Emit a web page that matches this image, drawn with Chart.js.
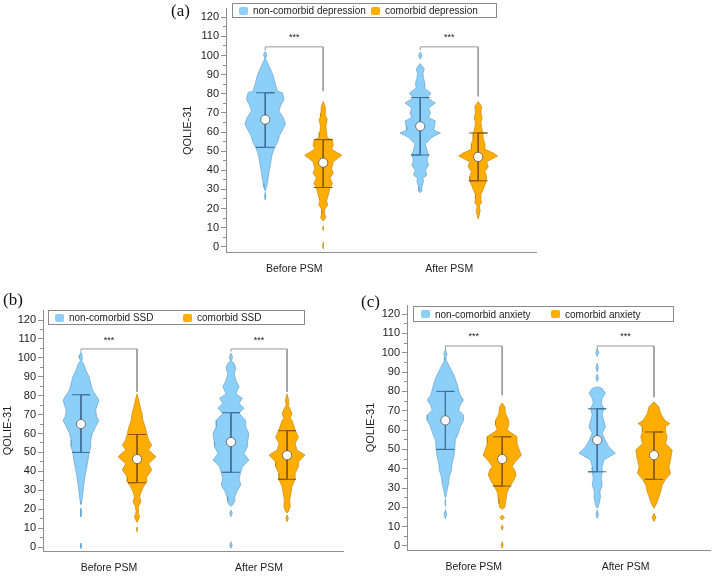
<!DOCTYPE html>
<html lang="en">
<head>
<meta charset="UTF-8">
<title>QOLIE-31 violin plots</title>
<script src="https://cdn.jsdelivr.net/npm/chart.js"></script>
<style>
  body { margin: 0; background: #fff; font-family: "Liberation Sans", Arial, sans-serif; }
  #wrap { position: relative; width: 716px; height: 577px; overflow: hidden; }
  #wrap canvas { position: absolute; }
  .tag { position: absolute; font-family: "Liberation Serif", "Times New Roman", serif; font-size: 17px; color: #111; line-height: 20px; }
  .legend { position: absolute; border: 1px solid #8a8a8a; box-sizing: border-box; font-size: 10px; color: #222; background: #fff; }
  .legend .sw { position: absolute; width: 9px; height: 8px; border-radius: 2px; }
  .legend .tx { position: absolute; line-height: 13px; white-space: nowrap; }
</style>
</head>
<body>
<div id="wrap">
  <canvas id="chartA" width="400" height="285" style="left:150px;top:0px"></canvas>
  <canvas id="chartB" width="360" height="297" style="left:0px;top:280px"></canvas>
  <canvas id="chartC" width="356" height="297" style="left:360px;top:280px"></canvas>

  <div class="tag" style="left:171px;top:1px">(a)</div>
  <div class="tag" style="left:3px;top:290px">(b)</div>
  <div class="tag" style="left:361px;top:292px">(c)</div>

  <div class="legend" style="left:232px;top:3px;width:265px;height:15px">
    <span class="sw" style="left:6px;top:3px;background:#8ccff9"></span><span class="tx" style="left:20px;top:0px">non-comorbid depression</span>
    <span class="sw" style="left:138px;top:3px;background:#ffad00"></span><span class="tx" style="left:152px;top:0px">comorbid depression</span>
  </div>
  <div class="legend" style="left:48px;top:310px;width:257px;height:15px">
    <span class="sw" style="left:6px;top:3px;background:#8ccff9"></span><span class="tx" style="left:20px;top:0px">non-comorbid SSD</span>
    <span class="sw" style="left:134px;top:3px;background:#ffad00"></span><span class="tx" style="left:148px;top:0px">comorbid SSD</span>
  </div>
  <div class="legend" style="left:413px;top:306px;width:261px;height:16px">
    <span class="sw" style="left:7px;top:3px;background:#8ccff9"></span><span class="tx" style="left:21px;top:1px">non-comorbid anxiety</span>
    <span class="sw" style="left:137px;top:3px;background:#ffad00"></span><span class="tx" style="left:151px;top:1px">comorbid anxiety</span>
  </div>
</div>
<script>
// categories and axis ticks
const groups = ['Before PSM', 'After PSM'];
const yTicks = [0, 10, 20, 30, 40, 50, 60, 70, 80, 90, 100, 110, 120];
const yMinorTicks = [5, 15, 25, 35, 45, 55, 65, 75, 85, 95, 105, 115];

// violin profiles: [QOLIE-31 score, density (half width)], bottom to top, 0 = gap
const depBeforeNon = [[24.5,0],[26.5,0.8],[28.5,0],[29,0],[31,1.2],[33,2],[37.5,3.3],[42.7,5],[48,6.7],[50.5,8.3],[52.5,10],[55,12.5],[58,14],[61,17],[64,20],[67.5,18],[71,13.5],[73.5,15],[77,18.5],[80.5,17],[81.5,12],[84,10.5],[87,9],[90,7.5],[93,5],[96,2.5],[98.3,0.3],[100.5,1.7],[102,0]];
const depBeforeCom = [[-1,0],[0.7,0.7],[2.5,0],[8.5,0],[9.8,0.7],[11,0],[13.5,0],[15.4,2.7],[17,1.5],[19.7,1.5],[22,4.5],[24,3.3],[27,5],[30.8,6.7],[33,9.3],[36,6.7],[38.5,10],[41,8.3],[44.4,10],[47.9,18.3],[51,8.3],[53,10],[56,9],[57,4],[60,3.3],[63,2.7],[66.7,4],[68,2.7],[70,2.2],[73,2],[76,0]];
const depAfterNon = [[28.2,0],[29,1.3],[31.6,1.7],[34.2,3.3],[35.9,2.7],[37.6,6.7],[40,5],[42.7,8.3],[45.3,6.7],[48,8.3],[50.4,6.7],[53.8,5],[57.3,11.7],[59.5,20],[61,13.3],[63,14],[65.8,15],[67.5,8.3],[70,10],[72.6,8.3],[75.2,15],[77.8,6.7],[80.3,10.7],[83,4],[85.5,4.7],[88,3.3],[90.6,2.7],[93,4],[95.8,0],[98,0],[99.8,1.7],[101.7,0]];
const depAfterCom = [[14.5,0],[16.5,1],[18.8,2],[21.4,1],[23,3.3],[24.8,2.7],[27.4,2.7],[30,5],[32.5,6.7],[34.5,8.3],[36.8,8.3],[39.3,6.7],[41.9,10],[44.4,8.3],[47.5,19.3],[49,15],[51,6.7],[53.8,6.7],[56.4,5],[59.8,4.5],[62.4,3.3],[65,2.7],[67.5,4],[70,2.7],[73.5,3.3],[76,0]];

const ssdBeforeNon = [[-0.7,0],[0.7,0.7],[2,0],[16,0],[18,0.7],[20.5,0],[22.5,0],[24,0.7],[27.5,1.7],[32,2.7],[37,4],[42.5,6],[46,7.3],[50,8.3],[53,10],[56.6,10],[60,11.7],[63.6,15],[67,18.3],[68.9,16],[72.4,15],[75,16.7],[77.7,18.3],[80.4,15],[83,11.7],[86.5,10],[90,8.3],[93.5,5],[97,2.7],[98.5,0.5],[100,1.7],[101.5,1.2],[103,0]];
const ssdBeforeCom = [[8,0],[9.5,0.7],[10.7,0],[13,0],[14.5,1.5],[16,2.7],[17.5,1.5],[18.7,1],[21.3,1.7],[24,4],[26.6,2.7],[29,4],[32,6.7],[34.5,10],[37,10],[40.7,15],[44,11.7],[47.7,19.3],[51.4,11.7],[54,15],[56.6,11.7],[60,10],[63.6,8.3],[67,6],[70.7,5],[74,3.3],[77.7,1.7],[81,0]];
const ssdAfterNon = [[-0.7,0],[1,1.3],[2.8,0],[16,0],[17.8,1.3],[19.6,0],[21.5,0],[22.2,1.7],[24,3.3],[26.6,4],[29.3,6],[32.8,10],[36.3,8.3],[39.5,10],[42.5,11.7],[46,18.3],[49.5,13.3],[53,16.7],[55.5,17],[60,18.3],[63.6,15],[67,15],[70.7,8.3],[73.3,13.3],[76,8.3],[78.6,11.7],[81,5],[84.8,8.3],[88,5],[91.8,3.3],[94.5,5],[97,3.3],[98.5,0.5],[100.5,1.7],[102.5,0]];
const ssdAfterCom = [[13.4,0],[15.2,1.3],[17,0],[18,0],[18.7,1.3],[21.3,3.3],[24.8,2.7],[28.4,4],[32,5],[35.8,8.3],[39,8.3],[42.5,11.7],[45,11.7],[48.6,18.3],[51.3,10],[54.8,8.3],[58,11.7],[61.8,8.3],[64.5,6.7],[67,5],[68,3.3],[70.7,5],[73.3,2.7],[75,1],[77.7,1.7],[81,0]];

const anxBeforeNon = [[14,0],[16.4,1.3],[18.8,0],[20.5,0],[22.5,0.5],[24.5,0],[25,0],[26,0.7],[29,1.7],[32.4,3.3],[35.9,4],[39,6],[42.7,6.7],[46,8.3],[49.6,9.3],[54.8,10],[58,12.7],[61.7,15],[65,18.3],[67.8,18.3],[70.3,13.3],[73,15],[75.5,18.3],[78,15],[80.7,13.3],[84,11.7],[87.6,9.3],[91,6],[93.6,3.3],[96,1],[97.5,0.5],[99.5,1.7],[101.5,0]];
const anxBeforeCom = [[-1.2,0],[0.5,1],[2.2,0],[8.3,0],[9.6,1],[10.9,0],[13.4,0],[14.7,2.3],[16,0],[19,0],[20,2.7],[22,3.3],[24.6,4],[28,5],[31.2,8.3],[34,11.7],[36.7,14],[39.3,12.7],[41,10],[43.6,13.3],[47,19.3],[50.5,16.7],[53,15],[56.6,15],[60,5],[62.6,6.7],[65,6.7],[68.6,3.3],[72,2.7],[74,0]];
const anxAfterNon = [[14.3,0],[16.5,1.3],[18.6,0],[19.5,0],[20.3,1],[22,2],[25.5,3.3],[28,2.7],[31.6,5],[35,4],[38.4,5],[41,5],[44.5,6.7],[48,18.3],[51.4,11.7],[54.8,8],[58.3,5],[61.7,8.3],[65,6.7],[67.8,5],[71.2,6.7],[73.8,4],[76.4,5],[79,8.3],[81.5,5],[82.4,0],[85,0],[87,1.3],[89,0],[90,0],[92.2,1.3],[94.5,0],[98,0],[100,1.7],[102,0]];
const anxAfterCom = [[12.6,0],[14.8,2],[17,0],[19.5,0],[22,2.7],[25.5,5],[28,6.7],[31.6,8.3],[34.5,11.7],[37.6,16.7],[41,15],[44.5,16.7],[49.7,18.3],[53,11.7],[56.6,13.3],[59,11.7],[61.7,11.7],[63.4,16],[65,11],[68.6,6.7],[72,5],[74.6,0]];

// [Q1, median, Q3] for before/non, before/comorbid, after/non, after/comorbid
const depStats = [[52, 66.5, 80.5], [31, 44, 56], [48, 63, 78], [34.5, 47, 59.5]];
const ssdStats = [[50, 65, 80.5], [34, 46.5, 59.5], [39.5, 55.5, 71], [35.8, 48.5, 61.5]];
const anxStats = [[50, 65, 80], [31, 45, 56.5], [38.4, 54.8, 71], [34.5, 47, 59]];

// significance brackets per group: [bar level, left end, right end]
const depBrackets = [[104.5, 102.5, 81.4], [104.5, 102.6, 78.6]];
const ssdBrackets = [[104.7, 103.3, 82.1], [104.7, 103.3, 82]];
const anxBrackets = [[103.5, 101.4, 78], [103.5, 101.4, 77]];
const starLevel = [109.6, 109.4, 108.3];

const BLUE = { fill: '#8ccff9', edge: '#5d98c6', inner: '#3f6f93' };
const ORANGE = { fill: '#ffad00', edge: '#bd7d00', inner: '#865800' };
const OFFSET = 0.187;
const DENS = 1 / 153;
const CAP = 0.06;

function splitBlobs(profile) {
    const out = [];
    let cur = [];
    profile.forEach(([v, w]) => {
        cur.push([v, w]);
        if (w === 0 && cur.length > 1) {
            if (cur.some(p => p[1] > 0)) out.push(cur);
            cur = [[v, w]];
        }
    });
    if (cur.some(p => p[1] > 0)) out.push(cur);
    return out;
}

function violinDatasets(profile, cx, col) {
    return splitBlobs(profile).map(blob => {
        const right = blob.map(([v, w]) => ({ x: cx + w * DENS, y: v }));
        const left = blob.slice().reverse().map(([v, w]) => ({ x: cx - w * DENS, y: v }));
        return {
            data: right.concat(left),
            borderColor: col.edge,
            borderWidth: 0.6,
            backgroundColor: col.fill,
            fill: 'shape',
            pointRadius: 0,
            tension: 0,
            order: 5
        };
    });
}

function boxDatasets(stat, cx, col) {
    const [q1, med, q3] = stat;
    return [{
        data: [
            { x: cx - CAP, y: q3 }, { x: cx + CAP, y: q3 }, { x: cx, y: q3 },
            { x: cx, y: q1 }, { x: cx - CAP, y: q1 }, { x: cx + CAP, y: q1 }
        ],
        borderColor: col.inner,
        borderWidth: 1,
        pointRadius: 0,
        fill: false,
        order: 3
    }, {
        data: [{ x: cx, y: med }],
        showLine: false,
        pointRadius: 4.6,
        pointBackgroundColor: '#ffffff',
        pointBorderColor: '#555555',
        pointBorderWidth: 0.8,
        order: 1
    }];
}

function bracketDataset(br, gx) {
    const [bar, leftEnd, rightEnd] = br;
    return {
        data: [
            { x: gx - OFFSET, y: leftEnd }, { x: gx - OFFSET, y: bar },
            { x: gx + OFFSET, y: bar }, { x: gx + OFFSET, y: rightEnd }
        ],
        borderColor: '#9a9a9a',
        borderWidth: 1,
        pointRadius: 0,
        fill: false,
        order: 2
    };
}

const starsPlugin = {
    id: 'stars',
    afterDatasetsDraw(chart) {
        const { ctx, scales } = chart;
        const lvl = chart.options.plugins.stars.level;
        ctx.save();
        ctx.fillStyle = '#222';
        ctx.font = '9px "Liberation Sans", Arial, sans-serif';
        ctx.textAlign = 'center';
        ctx.textBaseline = 'middle';
        [1, 2].forEach(g => {
            ctx.fillText('***', scales.x.getPixelForValue(g), scales.y.getPixelForValue(lvl));
        });
        ctx.restore();
    }
};

function makePanel(id, profiles, stats, brackets, stars, geo) {
    const datasets = [];
    const cols = [BLUE, ORANGE, BLUE, ORANGE];
    const xs = [1 - OFFSET, 1 + OFFSET, 2 - OFFSET, 2 + OFFSET];
    profiles.forEach((p, i) => {
        datasets.push(...violinDatasets(p, xs[i], cols[i]));
        datasets.push(...boxDatasets(stats[i], xs[i], cols[i]));
    });
    brackets.forEach((b, i) => datasets.push(bracketDataset(b, i + 1)));

    new Chart(document.getElementById(id), {
        type: 'line',
        data: { datasets: datasets },
        plugins: [starsPlugin],
        options: {
            responsive: false,
            animation: false,
            devicePixelRatio: 1,
            layout: { padding: { top: geo.top, right: geo.right, left: 0, bottom: 0 } },
            plugins: {
                legend: { display: false },
                tooltip: { enabled: false },
                stars: { level: stars }
            },
            scales: {
                x: {
                    type: 'linear',
                    min: 0.56,
                    max: 2.56,
                    afterBuildTicks: s => { s.ticks = [{ value: 1 }, { value: 2 }]; },
                    afterFit: s => { s.height = geo.xh; },
                    ticks: {
                        callback: v => groups[v - 1],
                        color: '#222',
                        padding: 11,
                        font: { size: 10.5, family: '"Liberation Sans", Arial, sans-serif' }
                    },
                    grid: { display: false, drawTicks: false },
                    border: { display: true, color: '#8f8f8f', width: 1 }
                },
                y: {
                    type: 'linear',
                    min: geo.ymin,
                    max: geo.ymax,
                    weight: 1,
                    afterBuildTicks: s => { s.ticks = yTicks.map(v => ({ value: v })); },
                    afterFit: s => { s.width = geo.yw; },
                    ticks: {
                        color: '#222',
                        padding: 2,
                        font: { size: 11, family: '"Liberation Sans", Arial, sans-serif' }
                    },
                    grid: { drawOnChartArea: false, tickLength: 5, color: '#8f8f8f' },
                    border: { display: true, color: '#8f8f8f', width: 1 },
                    title: {
                        display: true,
                        text: 'QOLIE-31',
                        color: '#222',
                        padding: { top: geo.tp, bottom: 0 },
                        font: { size: 11, family: '"Liberation Sans", Arial, sans-serif' }
                    }
                },
                yMinor: {
                    type: 'linear',
                    position: 'left',
                    min: geo.ymin,
                    max: geo.ymax,
                    weight: 0,
                    afterBuildTicks: s => { s.ticks = yMinorTicks.map(v => ({ value: v })); },
                    afterFit: s => { s.width = 0; },
                    ticks: { display: false },
                    grid: { drawOnChartArea: false, tickLength: 3, color: '#8f8f8f' },
                    border: { display: false }
                }
            }
        }
    });
}

makePanel('chartA', [depBeforeNon, depBeforeCom, depAfterNon, depAfterCom], depStats, depBrackets, starLevel[0],
    { top: 4, right: 14, xh: 33, yw: 76, tp: 31.4, ymin: -2.7, ymax: 124.5 });
makePanel('chartB', [ssdBeforeNon, ssdBeforeCom, ssdAfterNon, ssdAfterCom], ssdStats, ssdBrackets, starLevel[1],
    { top: 30, right: 17, xh: 26, yw: 43, tp: 1.4, ymin: -2.1, ymax: 125.3 });
makePanel('chartC', [anxBeforeNon, anxBeforeCom, anxAfterNon, anxAfterCom], anxStats, anxBrackets, starLevel[2],
    { top: 25, right: 3, xh: 27, yw: 47, tp: 4.4, ymin: -2.07, ymax: 124.7 });
</script>
</body>
</html>
